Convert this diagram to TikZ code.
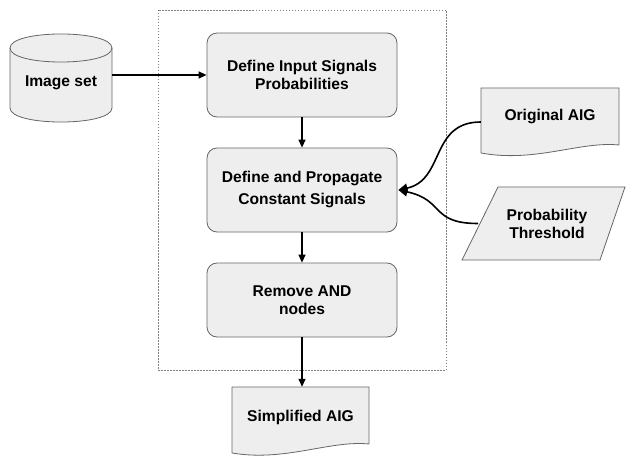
\documentclass[tikz,border=0pt]{standalone}
\usepackage{fontspec}
\setmainfont{Liberation Sans}
\usetikzlibrary{arrows.meta}
\definecolor{shapefill}{HTML}{EEEEEE}
\definecolor{shapeline}{HTML}{666666}
\tikzset{
  lbl/.style={font=\fontsize{15.6}{18}\selectfont\bfseries, align=center, text=black},
  procbox/.style={lbl, draw=shapeline, fill=shapefill, rounded corners=10pt, line width=0.8pt, minimum width=190pt},
  ghost/.style={lbl, inner sep=0pt},
  shapeedge/.style={draw=shapeline, fill=shapefill, line width=0.8pt},
  flow/.style={line width=1.3pt, -{Triangle[length=8pt,width=7pt]}},
  curvedflow/.style={line width=1.6pt, -{Triangle[length=9pt,width=9pt]}},
  groupbox/.style={draw=gray, line width=0.6pt, dash pattern=on 1.5pt off 1.5pt}
}
\begin{document}
\begin{tikzpicture}[x=1pt,y=-1pt]
\useasboundingbox (0,0) rectangle (626,457);
% group frame
\draw[groupbox] (158,10) rectangle (446,370);
% cylinder
\path[shapeedge] (10,48) -- (10,108) .. controls (10,126.7) and (112,126.7) .. (112,108)
  -- (112,48) .. controls (112,29.3) and (10,29.3) .. (10,48) -- cycle;
\draw[draw=shapeline, line width=0.8pt] (10,48) .. controls (10,66.7) and (112,66.7) .. (112,48);
\node[ghost, minimum width=102pt, minimum height=87pt] (img) at (61,78.5) {};
\node[lbl] (imgtxt) at (61,83) {Image set};
% process boxes
\node[procbox, minimum height=84pt] (b1) at (302,75) {Define Input Signals\\Probabilities};
\node[procbox, minimum height=84pt] (b2) at (302,190) {Define and Propagate\\[4pt]Constant Signals};
\node[procbox, minimum height=74pt] (b3) at (302,300) {Remove AND\\nodes};
% Simplified AIG document
\path[shapeedge] (232,387) -- (369,387) -- (369,444)
  .. controls (330,440) and (285,462) .. (232,453) -- cycle;
\node[ghost, minimum width=137pt, minimum height=60pt] (simp) at (300.5,417) {Simplified AIG};
% Original AIG document
\path[shapeedge] (481,88) -- (619,88) -- (619,145)
  .. controls (580,141) and (535,163) .. (481,153) -- cycle;
\node[ghost, minimum width=138pt, minimum height=68pt] (orig) at (550,122) {};
\node[lbl] (origtxt) at (550,117) {Original AIG};
% Probability threshold parallelogram
\path[shapeedge] (498,187) -- (625,187) -- (600,260) -- (462,260) -- cycle;
\node[ghost, minimum width=120pt, minimum height=73pt] (thr) at (543.5,223.5) {};
\node[lbl] (thrtxt) at (547,224) {Probability\\Threshold};
\coordinate (thrin) at (478,223.5);
% connectors
\draw[flow] ([yshift=3.5pt]img.east) -- (b1.west);
\draw[flow] (b1.south) -- (b2.north);
\draw[flow] (b2.south) -- (b3.north);
\draw[flow] (b3.south) -- (b3.south |- simp.north);
\draw[curvedflow] (orig.west) .. controls (430,122) and (445,180) .. ([xshift=1pt]b2.east);
\draw[curvedflow] (thrin) .. controls (430,223.5) and (445,200) .. ([xshift=1pt]b2.east);
\end{tikzpicture}
\end{document}
